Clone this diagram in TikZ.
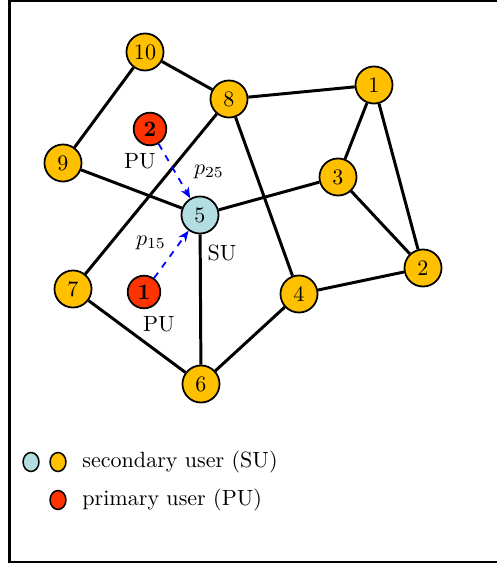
\documentclass[tikz,border=0pt]{standalone}
\usetikzlibrary{arrows.meta,shapes.geometric}
\definecolor{suyellow}{RGB}{255,192,0}
\definecolor{sublue}{RGB}{178,222,226}
\definecolor{pured}{RGB}{255,51,0}
\begin{document}
\begin{tikzpicture}[x=0.4535pt,y=-0.4535pt,
  su/.style={circle,draw,line width=0.8pt,fill=suyellow,minimum size=16.8pt,inner sep=0pt},
  sub/.style={su,fill=sublue},
  pu/.style={circle,draw,line width=0.8pt,fill=pured,minimum size=14.8pt,inner sep=0pt,font=\bfseries},
  edge/.style={line width=1.35pt},
  parr/.style={blue,dashed,line width=0.8pt,-{Stealth[length=5pt,width=4pt]}},
  leg/.style={ellipse,draw,line width=0.7pt,minimum width=7.2pt,minimum height=8.6pt,inner sep=0pt}]
\useasboundingbox (0,0) rectangle (496,565);
\draw[line width=1pt] (9.5,-5) -- (9.5,562) -- (505,562);
\draw[line width=1pt] (9.5,0.5) -- (505,0.5);
\node[su] (n10) at (145,52) {10};
\node[su] (n8) at (229,99) {8};
\node[su] (n1) at (374,85) {1};
\node[su] (n9) at (63,163) {9};
\node[su] (n3) at (338,177) {3};
\node[sub] (n5) at (200,215) {5};
\node[su] (n7) at (73,289) {7};
\node[su] (n4) at (299,294) {4};
\node[su] (n2) at (423,268) {2};
\node[su] (n6) at (201,384) {6};
\node[pu] (p2) at (150,129) {2};
\node[pu] (p1) at (144,292) {1};
\draw[edge] (n10) -- (n9);
\draw[edge] (n10) -- (n8);
\draw[edge] (n8) -- (n1);
\draw[edge] (n8) -- (n7);
\draw[edge] (n8) -- (n4);
\draw[edge] (n1) -- (n3);
\draw[edge] (n1) -- (n2);
\draw[edge] (n3) -- (n2);
\draw[edge] (n3) -- (n5);
\draw[edge] (n9) -- (n5);
\draw[edge] (n5) -- (n6);
\draw[edge] (n7) -- (n6);
\draw[edge] (n6) -- (n4);
\draw[edge] (n4) -- (n2);
\draw[parr] (p2) -- (n5);
\draw[parr] (p1) -- (n5);
\node (l25) at (209,172) {$p_{25}$};
\node (l15) at (151,243) {$p_{15}$};
\node (lpu2) at (140,161) {PU};
\node (lsu) at (222,253) {SU};
\node (lpu1) at (159,324) {PU};
% legend
\node[leg,fill=sublue] (lg1) at (31,462) {};
\node[leg,fill=suyellow] (lg2) at (58,462) {};
\node[leg,fill=pured] (lg3) at (58,500) {};
\node[anchor=west,inner sep=0pt] (lt1) at (82,462) {secondary user (SU)};
\node[anchor=west,inner sep=0pt] (lt2) at (82,500) {primary user (PU)};
\end{tikzpicture}
\end{document}
